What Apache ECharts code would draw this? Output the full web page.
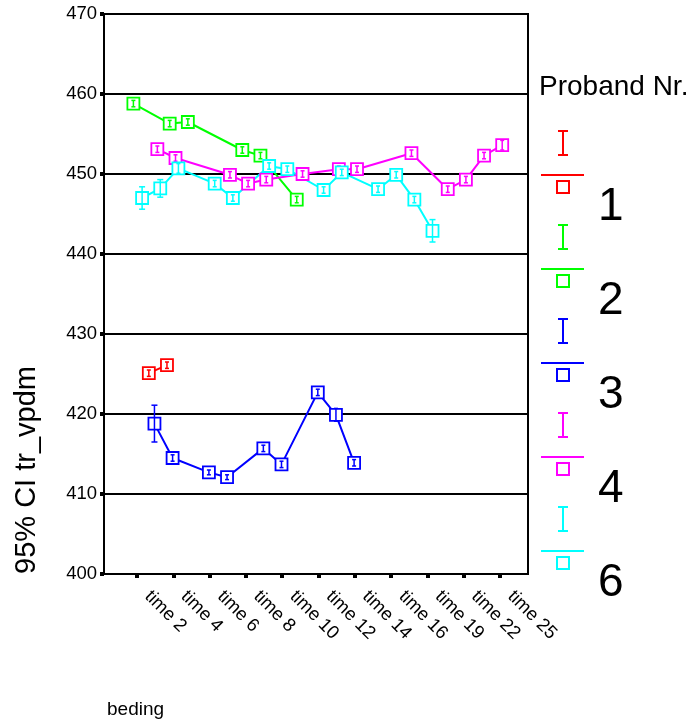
<!DOCTYPE html>
<html>
<head>
<meta charset="utf-8">
<script src="https://cdn.jsdelivr.net/npm/echarts@6/dist/echarts.min.js"></script>
<style>
  html, body { margin: 0; padding: 0; background: #fff; }
  #chart { width: 696px; height: 724px; }
</style>
</head>
<body>
<div id="chart"></div>
<script>
// Measurement occasions (only every second one gets a label on the axis)
const categories = [
  'time 1', 'time 2', 'time 3', 'time 4', 'time 5', 'time 6', 'time 7', 'time 8',
  'time 9', 'time 10', 'time 11', 'time 12', 'time 13', 'time 14', 'time 15', 'time 16',
  'time 17', 'time 19', 'time 20', 'time 22', 'time 23', 'time 25'
];

const probandNames = ['1', '2', '3', '4', '6'];

// Mean tr_vpdm per occasion (null = no measurement)
const meanP1 = [null, null, 425.1, 426.1, null, null, null, null, null, null, null,
  null, null, null, null, null, null, null, null, null, null, null];
const meanP2 = [null, 458.8, null, 456.3, 456.5, null, null, 453.0, 452.3, null, 446.8,
  null, null, null, null, null, null, null, null, null, null, null];
const meanP3 = [null, null, 418.8, 414.5, null, 412.7, 412.1, null, 415.7, 413.7, null,
  422.7, 419.9, 413.9, null, null, null, null, null, null, null, null];
const meanP4 = [null, null, 453.1, 452.0, null, null, 449.9, 448.8, 449.3, null, 450.0,
  null, 450.6, 450.6, null, null, 452.6, null, 448.1, 449.3, 452.3, 453.6];
const meanP6 = [null, 447.0, 448.2, 450.7, null, 448.8, 447.0, null, 451.0, 450.6, null,
  448.0, 450.2, null, 448.1, 449.9, 446.8, 442.9, null, null, null, null];

// Half width of the 95% confidence interval
const ciP1 = [null, null, 0.4, 0.4, null, null, null, null, null, null, null,
  null, null, null, null, null, null, null, null, null, null, null];
const ciP2 = [null, 0.4, null, 0.4, 0.4, null, null, 0.4, 0.4, null, 0.4,
  null, null, null, null, null, null, null, null, null, null, null];
const ciP3 = [null, null, 2.3, 0.4, null, 0.3, 0.3, null, 0.4, 0.4, null,
  0.4, 0.8, 0.4, null, null, null, null, null, null, null, null];
const ciP4 = [null, null, 0.4, 0.4, null, null, 0.4, 0.4, 0.4, null, 0.4,
  null, 0.4, 0.4, null, null, 0.4, null, 0.4, 0.4, 0.4, 0.6];
const ciP6 = [null, 1.4, 1.1, 0.6, null, 0.4, 0.4, null, 0.4, 0.4, null,
  0.4, 0.4, null, 0.4, 0.4, 0.4, 1.4, null, null, null, null];

const allMeans = [meanP1, meanP2, meanP3, meanP4, meanP6];
const allCis = [ciP1, ciP2, ciP3, ciP4, ciP6];
const colors = ['#ff0000', '#00ff00', '#0000ff', '#ff00ff', '#00ffff'];
// side-by-side shift of each proband inside an occasion (in category widths)
const dodge = [-0.35, -0.2, -0.04, 0.12, 0.28];

const labelEveryOther = (idx) => idx % 2 === 1;
const FONT = '"Liberation Sans", Arial, sans-serif';

function boxWithErrorBar(color) {
  return function (params, api) {
    const x = api.value(0), m = api.value(1), e = api.value(2);
    const c = api.coord([x, m]);
    const hi = api.coord([x, m + e]);
    const lo = api.coord([x, m - e]);
    const h = 6;
    const cap = e > 1 ? 3 : 2;
    return {
      type: 'group',
      children: [
        { type: 'rect', shape: { x: c[0] - h, y: c[1] - h, width: 2 * h, height: 2 * h },
          style: { fill: '#fff', stroke: color, lineWidth: 1.8 } },
        { type: 'line', shape: { x1: c[0], y1: hi[1], x2: c[0], y2: lo[1] },
          style: { stroke: color, lineWidth: 1.5 } },
        { type: 'line', shape: { x1: c[0] - cap, y1: hi[1], x2: c[0] + cap, y2: hi[1] },
          style: { stroke: color, lineWidth: 1.5 } },
        { type: 'line', shape: { x1: c[0] - cap, y1: lo[1], x2: c[0] + cap, y2: lo[1] },
          style: { stroke: color, lineWidth: 1.5 } }
      ]
    };
  };
}

const series = [];
allMeans.forEach((means, s) => {
  const pts = [];
  const bars = [];
  means.forEach((v, i) => {
    if (v === null) return;
    pts.push([i + dodge[s], v]);
    bars.push([i + dodge[s], v, allCis[s][i]]);
  });
  series.push({
    type: 'line', name: probandNames[s], xAxisIndex: 0, yAxisIndex: 0,
    data: pts, symbol: 'none', silent: true, z: 2,
    lineStyle: { color: colors[s], width: 2 }
  });
  series.push({
    type: 'custom', name: probandNames[s], xAxisIndex: 0, yAxisIndex: 0,
    data: bars, encode: { x: 0, y: 1 }, z: 3,
    renderItem: boxWithErrorBar(colors[s])
  });
});

// legend block on the right
const legendGraphics = [
  { type: 'text', left: 539, top: 73,
    style: { text: 'Proband Nr.', font: '28px ' + FONT, fill: '#000' } }
];
probandNames.forEach((name, k) => {
  const y0 = 131 + 94 * k;
  const col = colors[k];
  legendGraphics.push(
    { type: 'line', shape: { x1: 563, y1: y0, x2: 563, y2: y0 + 24 }, style: { stroke: col, lineWidth: 2 } },
    { type: 'line', shape: { x1: 558, y1: y0, x2: 568, y2: y0 }, style: { stroke: col, lineWidth: 2 } },
    { type: 'line', shape: { x1: 558, y1: y0 + 24, x2: 568, y2: y0 + 24 }, style: { stroke: col, lineWidth: 2 } },
    { type: 'line', shape: { x1: 541, y1: y0 + 44, x2: 584, y2: y0 + 44 }, style: { stroke: col, lineWidth: 2 } },
    { type: 'rect', shape: { x: 557, y: y0 + 50, width: 12, height: 12 }, style: { fill: 'none', stroke: col, lineWidth: 2 } },
    { type: 'text', x: 598, y: y0 + 76,
      style: { text: name, font: '46px ' + FONT, fill: '#000', textVerticalAlign: 'middle' } }
  );
});
legendGraphics.push(
  { type: 'text', x: 27, y: 470, rotation: Math.PI / 2,
    style: { text: '95% CI tr_vpdm', font: '29px ' + FONT, fill: '#000',
             textAlign: 'center', textVerticalAlign: 'middle' } },
  { type: 'text', x: 107, y: 710,
    style: { text: 'beding', font: '19px ' + FONT, fill: '#000', textVerticalAlign: 'middle' } }
);

const chart = echarts.init(document.getElementById('chart'), null, { renderer: 'canvas' });
chart.setOption({
  backgroundColor: '#fff',
  animation: false,
  textStyle: { fontFamily: FONT, color: '#000' },
  grid: [
    // plotting area spanned by the occasions
    { left: 109.8, right: 186.9, top: 14, bottom: 150 },
    // framed box with the value axis and reference lines
    { left: 104, right: 168, top: 14, bottom: 150, show: true,
      borderColor: '#000', borderWidth: 2, backgroundColor: 'transparent', z: 1 }
  ],
  xAxis: [
    { type: 'value', gridIndex: 0, min: -0.5, max: categories.length - 0.5, show: false },
    { type: 'category', gridIndex: 0, data: categories, boundaryGap: true, position: 'bottom',
      axisLine: { show: false },
      axisTick: { show: true, alignWithLabel: true, interval: labelEveryOther, length: 4,
                  lineStyle: { color: '#000', width: 4 } },
      axisLabel: { interval: labelEveryOther, rotate: -45, margin: 9, fontSize: 18.5, color: '#000',
                   fontFamily: FONT, padding: [0, 0, 0, 15] },
      splitLine: { show: false } },
    { type: 'value', gridIndex: 1, show: false, min: 0, max: 1 }
  ],
  yAxis: [
    { type: 'value', gridIndex: 0, min: 400, max: 470, show: false },
    { type: 'value', gridIndex: 1, min: 400, max: 470, interval: 10,
      axisLine: { show: true, lineStyle: { color: '#000', width: 2 } },
      axisTick: { show: true, length: 4, lineStyle: { color: '#000', width: 4 } },
      axisLabel: { fontSize: 18.5, color: '#000', margin: 7, fontFamily: FONT },
      splitLine: { show: true, lineStyle: { color: '#000', width: 2 } } }
  ],
  series: series,
  graphic: legendGraphics
});
</script>
</body>
</html>
